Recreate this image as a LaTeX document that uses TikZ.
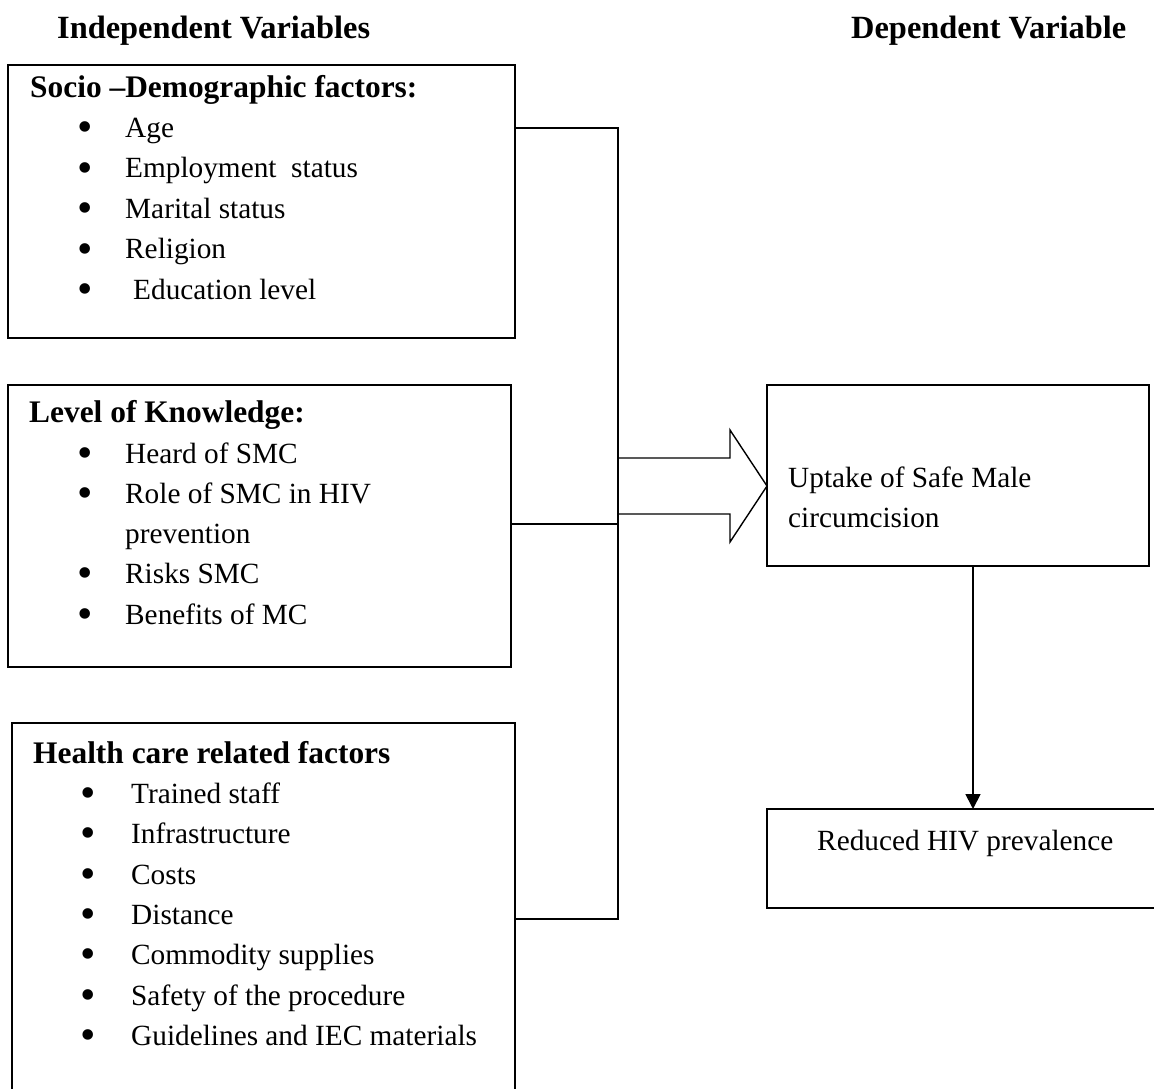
\documentclass[tikz,border=0pt]{standalone}
\usepackage{fontspec}
\setmainfont{Liberation Serif}
\usetikzlibrary{arrows.meta}
\newcommand\myBody{\fontsize{29.3}{40.3}\selectfont}
\newcommand\myHead{\fontsize{31.4}{40.3}\selectfont\bfseries}
\newcommand\myTitle{\fontsize{32.4}{40.3}\selectfont\bfseries}
\newcommand\myBul{\fontsize{44}{44}\selectfont}
\newcommand\litem[5]{%
  \node[bul] (#1b) at (#2,-#4) {•};
  \node[itm] (#1) at (#3,-#4) {#5};}
\tikzset{
  box/.style={draw, line width=1.7pt, rectangle, inner sep=0pt, outer sep=0pt, anchor=north west},
  bul/.style={anchor=base, inner sep=0pt, font=\myBul, yshift=-4.5pt},
  itm/.style={anchor=base west, inner sep=0pt, font=\myBody},
  hd/.style={anchor=base west, inner sep=0pt, font=\myHead},
  ttl/.style={anchor=base west, inner sep=0pt, font=\myTitle},
  wire/.style={line width=1.7pt},
}
\begin{document}
\begin{tikzpicture}[x=1pt,y=1pt]
\useasboundingbox (0,0) rectangle (1154,-1088);
\clip (0,0) rectangle (1154,-1088);
% titles
\node[ttl] (t1) at (57,-38) {Independent Variables};
\node[ttl] (t2) at (851,-38) {Dependent Variable};
% boxes
\node[box, minimum width=507pt, minimum height=273pt] (b1) at (8,-65) {};
\node[box, minimum width=503pt, minimum height=282pt] (b2) at (8,-385) {};
\node[box, minimum width=503pt, minimum height=400pt] (b3) at (12,-723) {};
\node[box, minimum width=382pt, minimum height=181pt] (b4) at (767,-385) {};
\node[box, minimum width=420pt, minimum height=99pt] (b5) at (767,-809) {};
% box 1 text
\node[hd] (h1) at (30,-97) {Socio –Demographic factors:};
\litem{a1}{85}{125}{137}{Age}
\litem{a2}{85}{125}{177.5}{Employment\ \ status}
\litem{a3}{85}{125}{218}{Marital status}
\litem{a4}{85}{125}{258.5}{Religion}
\litem{a5}{85}{133}{299}{Education level}
% box 2 text
\node[hd] (h2) at (29,-422) {Level of Knowledge:};
\litem{k1}{85}{125}{463}{Heard of SMC}
\litem{k2}{85}{125}{503}{Role of SMC in HIV}
\node[itm] (k2b2) at (125,-543) {prevention};
\litem{k3}{85}{125}{583}{Risks SMC}
\litem{k4}{85}{125}{624}{Benefits of MC}
% box 3 text
\node[hd] (h3) at (33,-763) {Health care related factors};
\litem{c1}{88}{131}{803}{Trained staff}
\litem{c2}{88}{131}{843}{Infrastructure}
\litem{c3}{88}{131}{884}{Costs}
\litem{c4}{88}{131}{924}{Distance}
\litem{c5}{88}{131}{964}{Commodity supplies}
\litem{c6}{88}{131}{1005}{Safety of the procedure}
\litem{c7}{88}{131}{1045}{Guidelines and IEC materials}
% right boxes text
\node[itm] (u1) at (788,-487) {Uptake of Safe Male};
\node[itm] (u2) at (788,-527) {circumcision};
\node[itm] (r1) at (817,-850) {Reduced HIV prevalence};
% connectors
\coordinate (j1) at (618,-128);
\coordinate (j2) at (618,-524);
\coordinate (j3) at (618,-919);
\draw[wire] (b1.east |- j1) -- (j1) -- (j3) -- (b3.east |- j3);
\draw[wire] (b2.east |- j2) -- (j2);
% block arrow
\draw[line width=1.4pt, line join=miter]
  (618,-458) -- (730,-458) -- (730,-430) -- (b4.west |- 0,-486) -- (730,-542) -- (730,-514) -- (618,-514);
% down arrow
\coordinate (ax) at (973,0);
\draw[wire, -{Triangle[length=15pt,width=15pt]}] (b4.south -| ax) -- (b5.north -| ax);
\end{tikzpicture}
\end{document}
